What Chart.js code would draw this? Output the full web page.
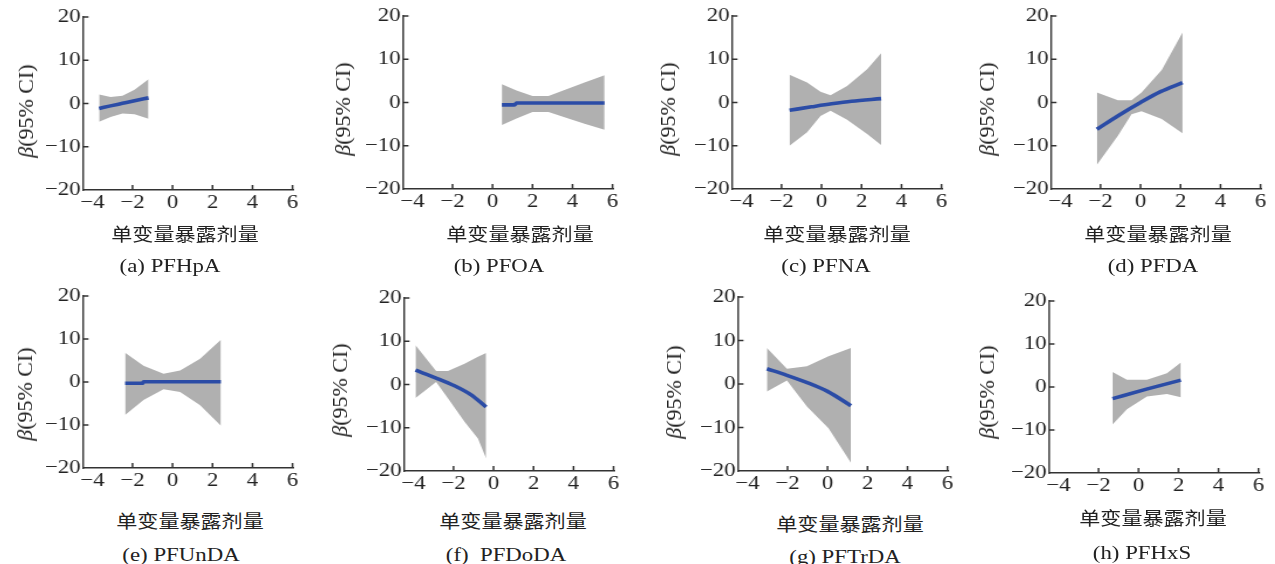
<!DOCTYPE html>
<html><head><meta charset="utf-8">
<script src="https://cdn.jsdelivr.net/npm/chart.js@4.4.1/dist/chart.umd.min.js"></script>
<style>
body{margin:0;background:#fff;width:1275px;height:564px;position:relative;overflow:hidden;}
.t{position:absolute;white-space:nowrap;color:#222;line-height:1;}
.xt{font-family:"Noto Sans CJK SC";font-size:18px;transform:translate(-50%,-50%) scaleX(1.17);}
.cap{font-family:"Liberation Serif";font-size:19.5px;transform:translate(-50%,-50%) scaleX(1.17);}
.yt{font-family:"Liberation Serif";font-size:22px;transform:translate(-50%,-50%) rotate(-90deg);}
.wrap{position:absolute;transform-origin:0 0;}
</style></head><body>
<script>
// ---- tick labels ----
const xTicks = [-4, -2, 0, 2, 4, 6];
const yTicks = [-20, -10, 0, 10, 20];
const xTitle = '单变量暴露剂量';
const captions = ['(a) PFHpA', '(b) PFOA', '(c) PFNA', '(d) PFDA', '(e) PFUnDA', '(f)\u00a0 PFDoDA', '(g) PFTrDA', '(h) PFHxS'];

// ---- data ----
const aBandX = [-3.67, -3.1, -2.5, -1.9, -1.2];
const aUpper = [2.1, 1.5, 1.8, 3.2, 5.6];
const aLower = [-4.2, -3.1, -2.3, -2.5, -3.5];
const aFitX  = [-3.67, -3.1, -2.5, -1.9, -1.2];
const aFit   = [-1.15, -0.55, 0.05, 0.65, 1.3];

const bBandX = [0.47, 1.2, 2.0, 2.8, 3.6, 4.6, 5.6];
const bUpper = [4.2, 2.8, 1.5, 1.5, 2.9, 4.6, 6.3];
const bLower = [-5.2, -3.7, -2.2, -2.2, -3.4, -4.9, -6.3];
const bFitX  = [0.47, 1.1, 1.2, 5.6];
const bFit   = [-0.55, -0.55, -0.1, -0.1];

const cBandX = [-1.6, -0.72, -0.05, 0.45, 1.28, 2.28, 2.98];
const cUpper = [6.4, 4.6, 2.5, 1.7, 3.8, 7.7, 11.4];
const cLower = [-10, -6.9, -3.1, -1.9, -4.0, -7.3, -9.8];
const cFitX  = [-1.6, -0.5, 0.5, 1.5, 2.98];
const cFit   = [-1.8, -1.0, -0.3, 0.3, 0.9];

const dBandX = [-2.18, -1.13, -0.45, 0.05, 1.06, 2.1];
const dUpper = [2.3, 0.5, 0.5, 2.3, 7.5, 16.2];
const dLower = [-14.4, -7.7, -2.7, -2.0, -3.8, -7.1];
const dFitX  = [-2.18, -1.1, 0, 1.0, 2.1];
const dFit   = [-6.2, -3.0, 0, 2.5, 4.6];

const eBandX = [-2.37, -1.45, -0.45, 0.38, 1.38, 2.42];
const eUpper = [6.8, 3.8, 1.9, 2.7, 5.4, 9.8];
const eLower = [-7.7, -4.2, -1.7, -2.3, -5.4, -10.2];
const eFitX  = [-2.37, -1.5, -1.45, 2.42];
const eFit   = [-0.3, -0.3, 0.05, 0.05];

const fBandX = [-3.9, -2.87, -2.28, -1.45, -0.78, -0.37];
const fUpper = [9.1, 3.1, 3.1, 4.8, 6.4, 7.3];
const fLower = [-3.1, 0.6, -3.2, -8.6, -12.5, -17.1];
const fFitX  = [-3.9, -2.87, -1.95, -1.12, -0.37];
const fFit   = [3.3, 1.5, -0.3, -2.4, -5.2];

const gBandX = [-3.03, -2.03, -1.03, 0.05, 1.17];
const gUpper = [8.3, 3.5, 4.1, 6.4, 8.3];
const gLower = [-1.7, 0.8, -5.2, -10.2, -18.1];
const gFitX  = [-3.03, -2.03, -0.95, 0, 1.17];
const gFit   = [3.5, 2.0, 0.2, -1.7, -5.0];

const hBandX = [-1.3, -0.58, 0.42, 1.42, 2.12];
const hUpper = [3.5, 1.7, 1.7, 3.2, 5.7];
const hLower = [-8.7, -5.2, -2.2, -1.6, -2.4];
const hFitX  = [-1.3, 0.4, 2.12];
const hFit   = [-2.7, -0.5, 1.6];

const series = [
  [aBandX, aUpper, aLower, aFitX, aFit],
  [bBandX, bUpper, bLower, bFitX, bFit],
  [cBandX, cUpper, cLower, cFitX, cFit],
  [dBandX, dUpper, dLower, dFitX, dFit],
  [eBandX, eUpper, eLower, eFitX, eFit],
  [fBandX, fUpper, fLower, fFitX, fFit],
  [gBandX, gUpper, gLower, gFitX, gFit],
  [hBandX, hUpper, hLower, hFitX, hFit]
];

// ---- layout (plot-area placement in page pixels) ----
const K = 1.17;               // horizontal stretch of the original figure
const areaLeft = [83, 403, 732, 1051, 83, 404, 738, 1049];
const areaTop  = [17, 16, 16, 16, 296, 298, 297, 301];
const areaH    = [173, 173, 173, 173, 172, 173, 174, 172];
const areaW = 210;
const yTitlePos = [[25.7,111],[342.5,109],[668,109],[987,109],[25,394],[340,390],[674,392],[987,392]];
const xTitlePos = [[185,233],[520,233],[837,233],[1158,233],[190,520],[513,520],[850,523],[1153,517]];
const capPos    = [[170,266],[499,266],[826,266],[1153,266],[181,555],[506,555],[845,557],[1142,553]];

const fmt = v => v < 0 ? '\u2212' + Math.abs(v) : String(v);
const zip = (xs, ys) => xs.map((x, i) => ({x, y: ys[i]}));

const innerTicks = {
  id: 'innerTicks',
  afterDraw(c) {
    const ctx = c.ctx, xs = c.scales.x, ys = c.scales.y, a = c.chartArea;
    ctx.save();
    ctx.strokeStyle = '#333';
    ctx.lineWidth = 1.5;
    ctx.beginPath();
    xTicks.forEach((v, i) => { if (i === 0) return; const px = xs.getPixelForValue(v); ctx.moveTo(px, a.bottom); ctx.lineTo(px, a.bottom - 5); });
    yTicks.forEach((v, i) => { if (i === 0) return; const py = ys.getPixelForValue(v); ctx.moveTo(a.left, py); ctx.lineTo(a.left + 5 / K, py); });
    ctx.stroke();
    ctx.restore();
  }
};

function addText(cls, txt, x, y, html) {
  const d = document.createElement('div');
  d.className = 't ' + cls;
  if (html) d.innerHTML = txt; else d.textContent = txt;
  d.style.left = x + 'px';
  d.style.top = y + 'px';
  document.body.appendChild(d);
}

series.forEach((s, i) => {
  const [bx, up, lo, fx, fy] = s;
  const padL = 50, padT = 15, padB = 35;
  const innerW = areaW / K;
  const W = Math.ceil(padL + innerW + 18);
  const padR = W - padL - innerW;
  const H = padT + areaH[i] + padB;
  const wrap = document.createElement('div');
  wrap.className = 'wrap';
  wrap.style.left = (areaLeft[i] - padL * K) + 'px';
  wrap.style.top = (areaTop[i] - padT) + 'px';
  wrap.style.width = W + 'px';
  wrap.style.height = H + 'px';
  wrap.style.transform = `scaleX(${K})`;
  const cv = document.createElement('canvas');
  cv.width = W; cv.height = H;
  cv.style.width = W + 'px'; cv.style.height = H + 'px';
  wrap.appendChild(cv);
  document.body.appendChild(wrap);
  const tickFont = {family: 'Liberation Serif', size: 19.5};
  new Chart(cv, {
    type: 'line',
    data: {datasets: [
      {data: zip(bx, up), fill: '+1', backgroundColor: '#b0b0b0', borderWidth: 0, pointRadius: 0, tension: 0, order: 2},
      {data: zip(bx, lo), fill: false, borderWidth: 0, pointRadius: 0, tension: 0, order: 2},
      {data: zip(fx, fy), fill: false, borderColor: '#2b4ca6', borderWidth: 3.6, pointRadius: 0, cubicInterpolationMode: 'monotone', order: 1, borderCapStyle: 'butt'}
    ]},
    options: {
      responsive: false, animation: false, events: [],
      plugins: {legend: {display: false}, tooltip: {enabled: false}},
      layout: {padding: {left: 0, top: padT, right: padR, bottom: 0}},
      scales: {
        x: {type: 'linear', min: -4.45, max: 6.05,
          afterBuildTicks: sc => { sc.ticks = xTicks.map(v => ({value: v})); },
          afterFit: sc => { sc.height = padB; },
          grid: {display: false, drawTicks: false},
          border: {display: true, color: '#333', width: 1.5},
          ticks: {padding: 1, font: tickFont, color: '#222', autoSkip: false, maxRotation: 0, callback: v => fmt(v)}},
        y: {type: 'linear', min: -20, max: 20,
          afterBuildTicks: sc => { sc.ticks = yTicks.map(v => ({value: v})); },
          afterFit: sc => { sc.width = padL; },
          grid: {display: false, drawTicks: false},
          border: {display: true, color: '#333', width: 1.4},
          ticks: {padding: 2.5, font: tickFont, color: '#222', autoSkip: false, callback: v => fmt(v)}}
      }
    },
    plugins: [innerTicks]
  });
  addText('yt', '<i>β</i>(95% CI)', yTitlePos[i][0], yTitlePos[i][1], true);
  addText('xt', xTitle, xTitlePos[i][0], xTitlePos[i][1]);
  addText('cap', captions[i], capPos[i][0], capPos[i][1]);
});
</script>
</body></html>
